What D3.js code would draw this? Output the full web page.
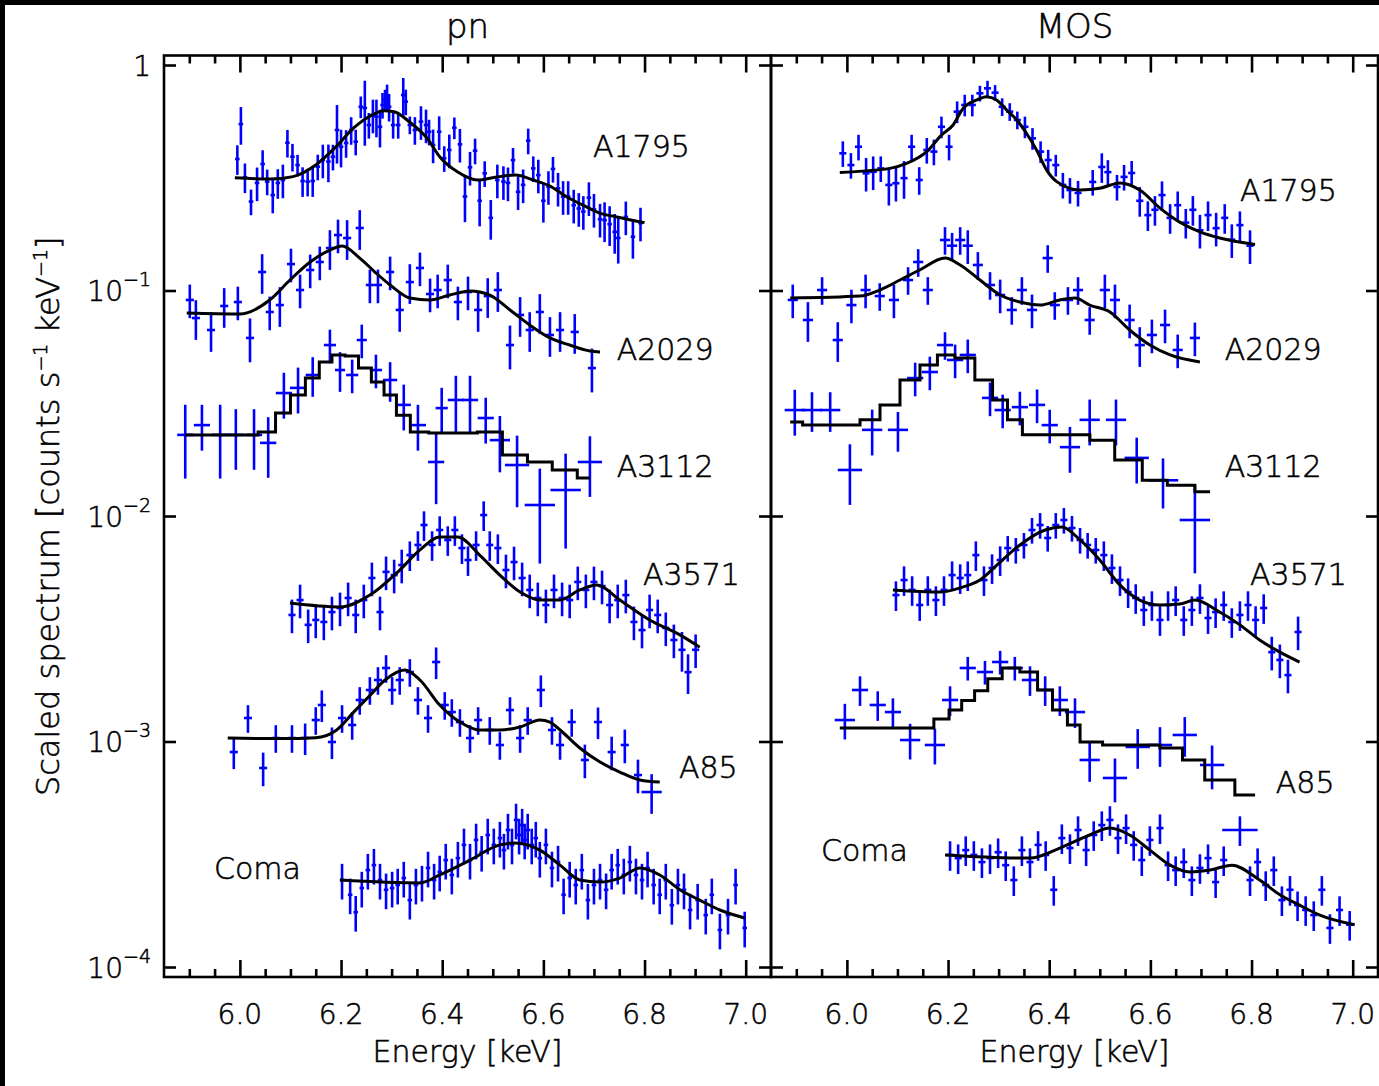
<!DOCTYPE html>
<html>
<head>
<meta charset="utf-8">
<script src="https://cdn.jsdelivr.net/npm/d3@7"></script>
<style>
body { margin:0; background:#fff; }
svg { display:block; }
text { font-family:"DejaVu Sans", sans-serif; font-weight:200; fill:#000; stroke:#000; stroke-width:0.55px; }
</style>
</head>
<body>
<svg id="chart"></svg>
<script>
// panels and clusters
var panels = ["pn", "MOS"];
var clusters = ["A1795", "A2029", "A3112", "A3571", "A85", "Coma"];

// axis ticks
var xMajorTicks = [6.0, 6.2, 6.4, 6.6, 6.8, 7.0];
var xMinorTicks = [5.9, 5.95, 6.05, 6.1, 6.15, 6.25, 6.3, 6.35, 6.45, 6.5, 6.55, 6.65, 6.7, 6.75, 6.85, 6.9, 6.95];
var yTicks = [1e-4, 1e-3, 1e-2, 1e-1, 1];
var yTickExp = [-4, -3, -2, -1, 0];

// data rows: [energy keV, scaled counts, relative error, (optional) half bin width keV]
// model rows: [energy keV, scaled counts]

// ---- pn ----
var pnA1795Data = [
[5.995,0.383,0.15],[6.002,0.547,0.19],[6.010,0.318,0.15],[6.022,0.248,0.13],[6.034,0.300,0.17],[6.045,0.364,0.15],
[6.054,0.304,0.13],[6.065,0.265,0.17],[6.075,0.300,0.15],[6.085,0.309,0.17],[6.094,0.452,0.14],[6.104,0.392,0.14],
[6.114,0.360,0.11],[6.124,0.306,0.15],[6.134,0.304,0.14],[6.144,0.306,0.15],[6.154,0.354,0.13],[6.164,0.379,0.17],
[6.175,0.373,0.19],[6.184,0.392,0.13],[6.192,0.515,0.29],[6.200,0.434,0.19],[6.210,0.451,0.14],[6.220,0.515,0.14],
[6.229,0.457,0.13],[6.239,0.653,0.11],[6.247,0.645,0.32],[6.255,0.542,0.13],[6.263,0.600,0.17],[6.270,0.590,0.19],
[6.277,0.532,0.19],[6.282,0.665,0.13],[6.287,0.700,0.11],[6.291,0.724,0.13],[6.295,0.653,0.14],[6.303,0.542,0.13],
[6.313,0.542,0.13],[6.323,0.736,0.19],[6.328,0.688,0.13],[6.336,0.542,0.09],[6.346,0.515,0.14],[6.358,0.561,0.17],
[6.368,0.542,0.17],[6.374,0.506,0.13],[6.382,0.442,0.17],[6.394,0.506,0.17],[6.404,0.386,0.13],[6.414,0.420,0.17],
[6.424,0.527,0.11],[6.435,0.445,0.17],[6.445,0.261,0.23],[6.455,0.352,0.17],[6.465,0.417,0.13],[6.474,0.250,0.23],
[6.484,0.331,0.13],[6.496,0.210,0.20],[6.509,0.309,0.17],[6.521,0.304,0.17],[6.530,0.300,0.17],[6.540,0.379,0.13],
[6.550,0.274,0.17],[6.560,0.294,0.17],[6.570,0.462,0.13],[6.580,0.348,0.13],[6.590,0.325,0.17],[6.600,0.250,0.20],
[6.610,0.289,0.17],[6.619,0.346,0.13],[6.629,0.284,0.17],[6.639,0.261,0.17],[6.649,0.261,0.17],[6.660,0.239,0.17],
[6.670,0.231,0.17],[6.679,0.224,0.17],[6.690,0.258,0.17],[6.700,0.229,0.17],[6.712,0.207,0.17],[6.721,0.205,0.20],
[6.731,0.197,0.20],[6.741,0.182,0.20],[6.748,0.171,0.23],[6.763,0.212,0.17],[6.777,0.173,0.20],[6.792,0.199,0.17]
];
var pnA1795Model = [
[5.99,0.316],[6.06,0.312],[6.105,0.32],[6.15,0.36],[6.19,0.434],[6.225,0.526],[6.255,0.59],[6.285,0.627],
[6.305,0.621],[6.335,0.56],[6.37,0.474],[6.395,0.392],[6.43,0.336],[6.47,0.309],[6.505,0.318],[6.545,0.325],
[6.58,0.309],[6.615,0.289],[6.645,0.261],[6.685,0.235],[6.71,0.221],[6.745,0.212],[6.80,0.20]
];

var pnA2029Data = [
[5.901,0.0908,0.17],[5.913,0.0755,0.2],[5.943,0.0668,0.2],[5.969,0.0854,0.2],[5.996,0.0889,0.17],[6.02,0.0616,0.22],
[6.044,0.1208,0.2],[6.059,0.0803,0.17],[6.079,0.0862,0.2],[6.101,0.131,0.17],[6.119,0.1005,0.17],[6.139,0.1233,0.17],
[6.158,0.1338,0.17],[6.178,0.1543,0.2],[6.194,0.1762,0.17],[6.212,0.1709,0.2],[6.237,0.1893,0.2],[6.257,0.1058,0.17],
[6.273,0.1058,0.17],[6.297,0.1208,0.17],[6.316,0.082,0.2],[6.336,0.109,0.2],[6.356,0.1259,0.17],[6.376,0.0965,0.17],
[6.391,0.1005,0.17],[6.411,0.1113,0.17],[6.431,0.0889,0.17],[6.451,0.0985,0.17],[6.471,0.082,0.2],[6.49,0.0945,0.2],
[6.51,0.1005,0.2],[6.534,0.0573,0.22],[6.554,0.0779,0.2],[6.573,0.0668,0.2],[6.593,0.0803,0.2],[6.613,0.0635,0.2],
[6.633,0.0668,0.2],[6.662,0.0655,0.2],[6.696,0.0453,0.22]
];
var pnA2029Model = [
[5.895,0.0795],[6.0,0.0787],[6.059,0.0908],[6.099,0.1113],[6.139,0.1338],[6.178,0.1512],[6.202,0.1575],[6.237,0.1393],
[6.267,0.1208],[6.297,0.1058],[6.336,0.0926],[6.376,0.0908],[6.415,0.0955],[6.455,0.0995],[6.494,0.0955],[6.534,0.082],
[6.573,0.0703],[6.613,0.0616],[6.652,0.0573],[6.692,0.0539],[6.712,0.0534]
];

var pnA3112Data = [
[5.892,0.0229,0.36,0.016],[5.925,0.0253,0.23,0.016],[5.961,0.0229,0.36,0.016],[5.992,0.0229,0.3,0.016],
[6.028,0.0229,0.3,0.016],[6.056,0.0211,0.3,0.016],[6.087,0.0351,0.23,0.016],[6.115,0.037,0.23,0.016],
[6.144,0.0422,0.2,0.014],[6.178,0.0573,0.17,0.012],[6.198,0.0444,0.2,0.01],[6.222,0.0422,0.17,0.012],
[6.241,0.0603,0.17,0.01],[6.269,0.0444,0.17,0.012],[6.297,0.0401,0.2,0.014],[6.324,0.0311,0.23,0.014],
[6.352,0.0253,0.23,0.016],[6.388,0.01736,0.35,0.016],[6.399,0.0301,0.23,0.012],[6.427,0.0327,0.28,0.016],
[6.455,0.0327,0.28,0.016],[6.486,0.0272,0.23,0.016],[6.514,0.0217,0.28,0.02],[6.548,0.01683,0.35,0.024],
[6.593,0.01119,0.45,0.03],[6.644,0.01304,0.45,0.03],[6.692,0.01736,0.3,0.024]
];
var pnA3112Model = [
[5.892,0.02286],[5.931,0.02286],[5.971,0.02286],[6.016,0.02286],[6.056,0.02358],[6.085,0.0286],[6.115,0.0344],
[6.144,0.0409],[6.17,0.0482],[6.194,0.0518],[6.222,0.0512],[6.247,0.0453],[6.273,0.0393],[6.297,0.0344],
[6.322,0.028],[6.352,0.02358],[6.395,0.02334],[6.445,0.02334],[6.494,0.02358],[6.544,0.01865],[6.593,0.01736],
[6.642,0.016],[6.692,0.01474]
];

var pnA3571Data = [
[6.103,0.00364,0.17],[6.119,0.00424,0.17],[6.135,0.00329,0.17],[6.15,0.00346,0.17],[6.166,0.00339,0.17],
[6.182,0.00375,0.17],[6.198,0.00391,0.17],[6.214,0.00433,0.17],[6.229,0.00364,0.17],[6.245,0.00424,0.17],
[6.261,0.00531,0.17],[6.277,0.00375,0.17],[6.289,0.00565,0.17],[6.305,0.00547,0.17],[6.32,0.00606,0.17],
[6.336,0.00671,0.15],[6.352,0.00744,0.15],[6.364,0.00912,0.15],[6.38,0.00744,0.15],[6.395,0.00867,0.15],
[6.411,0.00783,0.15],[6.425,0.00867,0.15],[6.439,0.00721,0.15],[6.451,0.00638,0.15],[6.467,0.00744,0.15],
[6.482,0.0101,0.15],[6.494,0.00744,0.15],[6.51,0.00721,0.15],[6.526,0.00576,0.17],[6.542,0.00625,0.17],
[6.558,0.00531,0.17],[6.573,0.0047,0.17],[6.589,0.00433,0.17],[6.605,0.00403,0.17],[6.621,0.0047,0.17],
[6.637,0.00433,0.17],[6.652,0.00424,0.17],[6.668,0.0051,0.17],[6.684,0.0047,0.17],[6.7,0.0051,0.17],
[6.716,0.00489,0.17],[6.731,0.00403,0.17],[6.747,0.00424,0.17],[6.763,0.00446,0.17],[6.779,0.00339,0.17],
[6.795,0.00312,0.17],[6.81,0.00383,0.17],[6.826,0.00364,0.17],[6.842,0.00319,0.17],[6.858,0.00282,0.17],
[6.874,0.00255,0.2],[6.886,0.00203,0.2],[6.901,0.00255,0.17]
];
var pnA3571Model = [
[6.099,0.00411],[6.198,0.00395],[6.257,0.00446],[6.316,0.00576],[6.356,0.00707],[6.395,0.00807],[6.431,0.00807],
[6.474,0.00671],[6.514,0.00547],[6.554,0.0046],[6.593,0.00424],[6.633,0.00424],[6.672,0.0047],[6.706,0.00494],
[6.751,0.00424],[6.81,0.00346],[6.87,0.00297],[6.909,0.00262]
];

var pnA85Data = [
[5.988,0.000898,0.16],[6.016,0.001271,0.14],[6.046,0.000763,0.17],[6.071,0.001036,0.14],[6.103,0.001036,0.14],
[6.129,0.001036,0.16],[6.15,0.001245,0.14],[6.162,0.001452,0.16],[6.182,0.000995,0.16],[6.202,0.001271,0.14],
[6.222,0.001184,0.14],[6.237,0.001528,0.14],[6.257,0.001692,0.14],[6.273,0.001874,0.14],[6.289,0.002118,0.14],
[6.301,0.001692,0.14],[6.316,0.001874,0.14],[6.336,0.002033,0.14],[6.352,0.001528,0.14],[6.372,0.001271,0.14],
[6.388,0.002252,0.16],[6.405,0.001452,0.14],[6.419,0.001351,0.14],[6.435,0.00122,0.14],[6.455,0.001036,0.14],
[6.471,0.001245,0.14],[6.494,0.001125,0.14],[6.514,0.000965,0.14],[6.534,0.001379,0.14],[6.554,0.001036,0.14],
[6.569,0.001245,0.14],[6.595,0.001692,0.16],[6.617,0.001125,0.14],[6.633,0.000965,0.14],[6.656,0.00122,0.14],
[6.682,0.000828,0.17],[6.708,0.00122,0.16],[6.735,0.000898,0.17],[6.761,0.000965,0.17],[6.787,0.00071,0.17],
[6.814,0.000597,0.2,0.02]
];
var pnA85Model = [
[5.976,0.001036],[6.08,0.00103],[6.15,0.00104],[6.19,0.00112],[6.225,0.00135],[6.257,0.00160],[6.287,0.001874],
[6.326,0.002075],[6.356,0.001874],[6.395,0.001452],[6.435,0.00122],[6.474,0.001125],[6.514,0.001125],[6.554,0.00116],
[6.593,0.001245],[6.613,0.00122],[6.633,0.001125],[6.672,0.000936],[6.712,0.000811],[6.751,0.000732],
[6.791,0.000675],[6.83,0.000661]
];

var pnComaData = [
[6.202,0.000243,0.18],[6.218,0.000209,0.18],[6.229,0.000175,0.18],[6.241,0.000224,0.18],[6.253,0.000269,0.18],
[6.265,0.000283,0.18],[6.277,0.000243,0.18],[6.289,0.00022,0.18],[6.301,0.000224,0.18],[6.312,0.000231,0.18],
[6.324,0.000248,0.18],[6.336,0.000198,0.18],[6.348,0.000231,0.18],[6.36,0.000238,0.18],[6.372,0.000275,0.18],
[6.384,0.000243,0.18],[6.395,0.000264,0.18],[6.407,0.000298,0.18],[6.419,0.000256,0.18],[6.431,0.000304,0.18],
[6.443,0.000348,0.18],[6.455,0.000298,0.18],[6.467,0.000366,0.18],[6.478,0.000323,0.18],[6.49,0.000385,0.18],
[6.502,0.000348,0.18],[6.514,0.000373,0.18],[6.522,0.00033,0.18],[6.53,0.000405,0.18],[6.538,0.000348,0.18],
[6.546,0.000449,0.18],[6.552,0.000385,0.18],[6.558,0.000426,0.18],[6.563,0.000366,0.18],[6.569,0.000405,0.18],
[6.577,0.000348,0.18],[6.585,0.000373,0.18],[6.593,0.000304,0.18],[6.605,0.000348,0.18],[6.617,0.000275,0.18],
[6.629,0.000292,0.18],[6.64,0.000209,0.18],[6.652,0.000248,0.18],[6.664,0.000231,0.18],[6.676,0.000269,0.18],
[6.688,0.000198,0.18],[6.7,0.000231,0.18],[6.712,0.000243,0.18],[6.724,0.00022,0.18],[6.735,0.000269,0.18],
[6.747,0.000283,0.18],[6.759,0.000256,0.18],[6.771,0.000292,0.18],[6.783,0.000256,0.18],[6.795,0.000243,0.18],
[6.806,0.000275,0.18],[6.818,0.000231,0.18],[6.83,0.000209,0.18],[6.842,0.000243,0.18],[6.854,0.000188,0.18],
[6.866,0.000231,0.18],[6.878,0.00022,0.18],[6.89,0.000179,0.18],[6.905,0.000198,0.18],[6.921,0.00017,0.18],
[6.933,0.000209,0.18],[6.949,0.000146,0.18],[6.965,0.00017,0.18],[6.98,0.000231,0.18],[6.998,0.000149,0.18]
];
var pnComaModel = [
[6.198,0.000243],[6.356,0.000236],[6.395,0.000256],[6.455,0.000298],[6.514,0.000348],[6.544,0.000355],
[6.593,0.00033],[6.633,0.000283],[6.672,0.000243],[6.712,0.000238],[6.751,0.000248],[6.791,0.000275],
[6.83,0.000256],[6.87,0.00022],[6.909,0.000198],[6.949,0.000179],[6.998,0.000165]
];

// ---- MOS ----
var mosA1795Data = [
[5.992,0.406,0.13],[6.008,0.36,0.13],[6.023,0.434,0.13],[6.038,0.331,0.17],[6.052,0.336,0.17],[6.067,0.348,0.13],
[6.083,0.294,0.19],[6.097,0.299,0.17],[6.113,0.315,0.19],[6.128,0.434,0.13],[6.143,0.309,0.14],[6.158,0.42,0.13],
[6.172,0.413,0.13],[6.187,0.532,0.11],[6.202,0.434,0.13],[6.218,0.621,0.11],[6.233,0.665,0.11],[6.248,0.665,0.11],
[6.263,0.749,0.08],[6.278,0.788,0.08],[6.293,0.754,0.08],[6.307,0.653,0.09],[6.322,0.621,0.09],[6.337,0.57,0.09],
[6.352,0.532,0.11],[6.367,0.473,0.11],[6.383,0.413,0.11],[6.398,0.379,0.11],[6.413,0.36,0.11],[6.427,0.294,0.13],
[6.441,0.279,0.13],[6.457,0.271,0.13],[6.486,0.303,0.13],[6.504,0.353,0.15],[6.516,0.335,0.13],[6.534,0.288,0.13],
[6.548,0.319,0.13],[6.563,0.332,0.13],[6.579,0.25,0.15],[6.595,0.216,0.15],[6.609,0.228,0.15],[6.623,0.265,0.15],
[6.639,0.21,0.15],[6.654,0.239,0.15],[6.67,0.2,0.15],[6.684,0.228,0.15],[6.698,0.185,0.17],[6.714,0.216,0.15],
[6.73,0.189,0.17],[6.747,0.21,0.15],[6.761,0.168,0.17],[6.777,0.195,0.15],[6.797,0.158,0.17]
];
var mosA1795Model = [
[5.986,0.334],[6.085,0.348],[6.118,0.366],[6.158,0.413],[6.187,0.489],[6.21,0.542],[6.23,0.643],[6.257,0.70],
[6.276,0.724],[6.296,0.70],[6.316,0.631],[6.336,0.57],[6.355,0.498],[6.375,0.42],[6.395,0.342],[6.415,0.304],
[6.461,0.279],[6.5,0.284],[6.54,0.30],[6.579,0.279],[6.619,0.232],[6.658,0.201],[6.698,0.182],[6.737,0.171],[6.807,0.16]
];

var mosA2029Data = [
[5.893,0.0908,0.17],[5.923,0.074,0.2],[5.951,0.1005,0.14],[5.982,0.0603,0.2],[6.009,0.0862,0.17],[6.037,0.1005,0.17],
[6.065,0.0945,0.14],[6.093,0.0908,0.17],[6.121,0.1113,0.14],[6.141,0.1338,0.14],[6.16,0.1005,0.14],[6.194,0.1675,0.14],
[6.208,0.158,0.14],[6.224,0.1675,0.14],[6.239,0.158,0.17],[6.259,0.1298,0.14],[6.283,0.1058,0.14],[6.303,0.0955,0.17],
[6.326,0.082,0.14],[6.346,0.1005,0.14],[6.366,0.082,0.17],[6.397,0.1393,0.14],[6.411,0.0862,0.14],[6.437,0.0908,0.14],
[6.457,0.1005,0.14],[6.48,0.074,0.14],[6.51,0.1005,0.17],[6.53,0.0908,0.17],[6.559,0.074,0.17],[6.579,0.0573,0.2],
[6.603,0.0635,0.17],[6.629,0.0703,0.17],[6.654,0.0545,0.17],[6.688,0.0616,0.17]
];
var mosA2029Model = [
[5.888,0.0926],[6.026,0.0945],[6.065,0.1005],[6.105,0.1113],[6.144,0.1233],[6.194,0.1393],[6.224,0.1298],
[6.263,0.1113],[6.303,0.0955],[6.342,0.0889],[6.382,0.0862],[6.421,0.0908],[6.451,0.0926],[6.48,0.0862],
[6.52,0.0803],[6.559,0.0668],[6.599,0.0573],[6.639,0.0518],[6.698,0.0482]
];

var mosA3112Data = [
[5.897,0.0295,0.23,0.02],[5.931,0.0295,0.2,0.02],[5.967,0.0295,0.2,0.02],[6.006,0.016,0.3,0.024],
[6.05,0.0241,0.23,0.02],[6.101,0.0241,0.2,0.02],[6.135,0.0409,0.17,0.016],[6.164,0.0435,0.17,0.016],
[6.194,0.0573,0.14,0.016],[6.214,0.0492,0.17,0.016],[6.239,0.0518,0.17,0.016],[6.283,0.0334,0.17,0.016],
[6.308,0.0295,0.17,0.016],[6.342,0.0304,0.17,0.016],[6.376,0.0311,0.17,0.016],[6.401,0.0253,0.17,0.016],
[6.441,0.0202,0.23,0.02],[6.48,0.0267,0.23,0.02],[6.532,0.0267,0.23,0.02],[6.573,0.0181,0.23,0.024],
[6.625,0.0144,0.25,0.03],[6.688,0.0096,0.42,0.03]
];
var mosA3112Model = [
[5.888,0.0261],[5.937,0.0253],[6.006,0.0253],[6.046,0.0267],[6.085,0.0311],[6.125,0.0401],[6.164,0.0467],
[6.194,0.0518],[6.233,0.0502],[6.273,0.0401],[6.303,0.0327],[6.332,0.0267],[6.362,0.0229],[6.401,0.0229],
[6.461,0.0229],[6.5,0.0217],[6.559,0.0177],[6.609,0.0144],[6.658,0.0137],[6.718,0.0128]
];

var mosA3571Data = [
[6.097,0.00446,0.15],[6.113,0.0052,0.15],[6.129,0.0047,0.15],[6.144,0.00403,0.15],[6.16,0.0047,0.15],
[6.176,0.00424,0.15],[6.192,0.0047,0.15],[6.208,0.00547,0.15],[6.224,0.00531,0.15],[6.239,0.00547,0.15],
[6.255,0.00671,0.15],[6.271,0.0052,0.15],[6.287,0.00588,0.15],[6.303,0.00638,0.15],[6.318,0.00721,0.13],
[6.334,0.00707,0.13],[6.35,0.00744,0.13],[6.366,0.00867,0.13],[6.382,0.00912,0.13],[6.397,0.00799,0.13],
[6.413,0.00912,0.13],[6.429,0.0096,0.13],[6.445,0.00885,0.13],[6.461,0.00783,0.13],[6.476,0.00744,0.13],
[6.492,0.00707,0.13],[6.508,0.00671,0.15],[6.524,0.00588,0.15],[6.54,0.0052,0.15],[6.556,0.0046,0.15],
[6.571,0.00433,0.15],[6.587,0.00383,0.15],[6.603,0.00403,0.15],[6.619,0.00346,0.15],[6.635,0.00403,0.15],
[6.65,0.00424,0.15],[6.666,0.00346,0.15],[6.682,0.00383,0.15],[6.698,0.00433,0.15],[6.714,0.00353,0.15],
[6.729,0.00375,0.15],[6.745,0.00403,0.15],[6.761,0.00339,0.15],[6.777,0.00364,0.15],[6.793,0.00403,0.15],
[6.808,0.00346,0.15],[6.824,0.00391,0.15],[6.84,0.00249,0.17],[6.856,0.0023,0.17],[6.872,0.00197,0.17],
[6.892,0.00306,0.17]
];
var mosA3571Model = [
[6.091,0.0047],[6.184,0.0046],[6.224,0.0048],[6.263,0.0052],[6.303,0.00625],[6.342,0.00744],[6.392,0.00867],
[6.425,0.00894],[6.461,0.00783],[6.5,0.00638],[6.54,0.00494],[6.579,0.00424],[6.619,0.00403],[6.658,0.00407],
[6.688,0.00424],[6.737,0.00375],[6.777,0.00329],[6.816,0.00282],[6.856,0.00249],[6.895,0.00225]
];

var mosA85Data = [
[5.996,0.001245,0.18,0.02],[6.026,0.001692,0.15,0.016],[6.061,0.001452,0.15,0.016],[6.091,0.001351,0.15,0.016],
[6.125,0.001015,0.18,0.02],[6.174,0.000965,0.18,0.02],[6.204,0.001528,0.15,0.016],[6.239,0.002118,0.12,0.016],
[6.273,0.002033,0.12,0.016],[6.303,0.002252,0.12,0.016],[6.332,0.002118,0.12,0.016],[6.362,0.001874,0.15,0.016],
[6.392,0.001692,0.15,0.016],[6.421,0.001528,0.15,0.016],[6.451,0.001351,0.15,0.02],[6.48,0.000828,0.2,0.02],
[6.53,0.000689,0.22,0.024],[6.575,0.000946,0.2,0.024],[6.619,0.000965,0.2,0.024],[6.668,0.001069,0.2,0.024],
[6.722,0.000787,0.22,0.024]
];
var mosA85Model = [
[5.986,0.001148],[6.08,0.001148],[6.154,0.001148],[6.19,0.00126],[6.214,0.00138],[6.24,0.00152],[6.265,0.00168],
[6.292,0.00190],[6.322,0.002118],[6.362,0.002033],[6.392,0.001692],[6.421,0.001379],[6.451,0.001184],[6.471,0.000995],
[6.54,0.000965],[6.599,0.000965],[6.639,0.000936],[6.688,0.000828],[6.727,0.000675],[6.807,0.000579]
];

var mosComaData = [
[6.204,0.000314,0.15],[6.22,0.000304,0.15],[6.235,0.00033,0.15],[6.251,0.000314,0.15],[6.267,0.000292,0.15],
[6.283,0.000304,0.15],[6.299,0.000323,0.15],[6.314,0.000283,0.15],[6.33,0.000243,0.15],[6.346,0.00033,0.15],
[6.362,0.000292,0.15],[6.378,0.000348,0.15],[6.393,0.000314,0.15],[6.409,0.00022,0.15],[6.425,0.000373,0.15],
[6.441,0.000337,0.15],[6.457,0.000405,0.15],[6.473,0.00033,0.15],[6.488,0.000385,0.15],[6.504,0.000426,0.15],
[6.52,0.000449,0.15],[6.536,0.000373,0.15],[6.552,0.000413,0.15],[6.567,0.000348,0.15],[6.583,0.000298,0.15],
[6.599,0.000366,0.15],[6.619,0.000413,0.15],[6.635,0.000283,0.15],[6.65,0.000269,0.15],[6.666,0.000292,0.15],
[6.682,0.000243,0.15],[6.698,0.000275,0.15],[6.714,0.000304,0.15],[6.729,0.000238,0.15],[6.745,0.000298,0.15],
[6.777,0.000405,0.15,0.035],[6.797,0.000243,0.15],[6.812,0.000292,0.15],[6.828,0.000231,0.15],[6.844,0.000269,0.15],
[6.86,0.000198,0.15],[6.876,0.00022,0.15],[6.891,0.000188,0.15],[6.907,0.000179,0.15],[6.923,0.00017,0.15],
[6.939,0.00022,0.15],[6.955,0.000149,0.15],[6.974,0.000179,0.15],[6.994,0.000154,0.15]
];
var mosComaModel = [
[6.194,0.000314],[6.362,0.000304],[6.421,0.000337],[6.48,0.000385],[6.52,0.000413],[6.559,0.000385],
[6.599,0.00033],[6.639,0.000283],[6.678,0.000264],[6.718,0.000269],[6.761,0.000283],[6.816,0.000243],
[6.856,0.000209],[6.895,0.000188],[6.935,0.00017],[7.004,0.000154]
];

// label anchor in data coordinates [energy, counts]
var labelAnchors = {
  pn:  [[6.698,0.391],[6.745,0.0492],[6.745,0.0149],[6.797,0.00494],[6.868,0.000689],[5.949,0.000246]],
  MOS: [[6.777,0.249],[6.747,0.0492],[6.747,0.0149],[6.797,0.00494],[6.848,0.000591],[5.949,0.000295]]
};

// spectrum table: panel, cluster, data, model, default half bin width, step-drawn model
var spectra = [
  {panel:"pn", name:"A1795", data:pnA1795Data, model:pnA1795Model, dE:0.0045, step:false},
  {panel:"pn", name:"A2029", data:pnA2029Data, model:pnA2029Model, dE:0.008, step:false},
  {panel:"pn", name:"A3112", data:pnA3112Data, model:pnA3112Model, dE:0.016, step:true},
  {panel:"pn", name:"A3571", data:pnA3571Data, model:pnA3571Model, dE:0.007, step:false},
  {panel:"pn", name:"A85",   data:pnA85Data,   model:pnA85Model,   dE:0.008, step:false},
  {panel:"pn", name:"Coma",  data:pnComaData,  model:pnComaModel,  dE:0.0045, step:false},
  {panel:"MOS", name:"A1795", data:mosA1795Data, model:mosA1795Model, dE:0.007, step:false},
  {panel:"MOS", name:"A2029", data:mosA2029Data, model:mosA2029Model, dE:0.01, step:false},
  {panel:"MOS", name:"A3112", data:mosA3112Data, model:mosA3112Model, dE:0.018, step:true},
  {panel:"MOS", name:"A3571", data:mosA3571Data, model:mosA3571Model, dE:0.007, step:false},
  {panel:"MOS", name:"A85",   data:mosA85Data,   model:mosA85Model,   dE:0.018, step:true},
  {panel:"MOS", name:"Coma",  data:mosComaData,  model:mosComaModel,  dE:0.007, step:false}
];

//page layout
var screen = {width:1379, height:1086};
var plotTop = 55.5, plotBottom = 977;
var panelBox = {pn:{left:164, right:771}, MOS:{left:771, right:1378}};

var svg = d3.select("#chart")
    .attr("width", screen.width)
    .attr("height", screen.height);

svg.append("rect").attr("width", screen.width).attr("height", screen.height).attr("fill", "#fff");
//dark strips along the top and left edge of the scan
svg.append("rect").attr("x", 0).attr("y", 0).attr("width", screen.width).attr("height", 5).attr("fill", "#000");
svg.append("rect").attr("x", 0).attr("y", 0).attr("width", 5).attr("height", screen.height).attr("fill", "#000");

var yScale = d3.scaleLog()
    .domain([9.03e-5, 1.102])
    .range([plotBottom, plotTop]);

var drawSpectrum = function(target, spec, xScale)
{
    var points = target.append("g")
        .attr("stroke", "#0000ff")
        .attr("stroke-width", 2.6)
        .selectAll("g")
        .data(spec.data)
        .enter()
        .append("g");

    //vertical error bar
    points.append("line")
        .attr("x1", function(d){ return xScale(d[0]); })
        .attr("x2", function(d){ return xScale(d[0]); })
        .attr("y1", function(d){ return yScale(d[1] * (1 + d[2])); })
        .attr("y2", function(d){ return yScale(d[1] * (1 - d[2])); });

    //horizontal bin width
    points.append("line")
        .attr("x1", function(d){ return xScale(d[0] - (d[3] || spec.dE)); })
        .attr("x2", function(d){ return xScale(d[0] + (d[3] || spec.dE)); })
        .attr("y1", function(d){ return yScale(d[1]); })
        .attr("y2", function(d){ return yScale(d[1]); });

    //model curve
    var line = d3.line()
        .x(function(d){ return xScale(d[0]); })
        .y(function(d){ return yScale(d[1]); })
        .curve(spec.step ? d3.curveStep : d3.curveMonotoneX);

    target.append("path")
        .datum(spec.model)
        .attr("d", line)
        .attr("fill", "none")
        .attr("stroke", "#000")
        .attr("stroke-width", 3)
        .attr("stroke-linejoin", "miter");
}

var drawAxes = function(target, box, xScale)
{
    var tickStyle = function(g)
    {
        g.select(".domain").remove();
        g.selectAll("line").attr("stroke", "#000").attr("stroke-width", 2.6);
        g.selectAll("text").remove();
    }

    target.append("g").attr("transform", "translate(0," + plotBottom + ")")
        .call(d3.axisBottom(xScale).tickValues(xMajorTicks).tickSize(-17)).call(tickStyle);
    target.append("g").attr("transform", "translate(0," + plotBottom + ")")
        .call(d3.axisBottom(xScale).tickValues(xMinorTicks).tickSize(-8)).call(tickStyle);
    target.append("g").attr("transform", "translate(0," + plotTop + ")")
        .call(d3.axisTop(xScale).tickValues(xMajorTicks).tickSize(-17)).call(tickStyle);
    target.append("g").attr("transform", "translate(0," + plotTop + ")")
        .call(d3.axisTop(xScale).tickValues(xMinorTicks).tickSize(-8)).call(tickStyle);
    target.append("g").attr("transform", "translate(" + box.left + ",0)")
        .call(d3.axisLeft(yScale).tickValues(yTicks).tickSize(-12)).call(tickStyle);
    target.append("g").attr("transform", "translate(" + box.right + ",0)")
        .call(d3.axisRight(yScale).tickValues(yTicks).tickSize(-12)).call(tickStyle);

    //frame
    target.append("rect")
        .attr("x", box.left)
        .attr("y", plotTop)
        .attr("width", box.right - box.left)
        .attr("height", plotBottom - plotTop)
        .attr("fill", "none")
        .attr("stroke", "#000")
        .attr("stroke-width", 2.6);

    //energy tick labels
    target.append("g").selectAll("text")
        .data(xMajorTicks)
        .enter()
        .append("text")
        .attr("x", function(d){ return xScale(d); })
        .attr("y", 1024)
        .attr("text-anchor", "middle")
        .attr("font-size", 28)
        .text(d3.format(".1f"));

    //axis title
    target.append("text")
        .attr("x", (box.left + box.right) / 2)
        .attr("y", 1062)
        .attr("text-anchor", "middle")
        .attr("font-size", 30)
        .text("Energy [keV]");
}

panels.forEach(function(panel)
{
    var box = panelBox[panel];
    var xScale = d3.scaleLinear()
        .domain([5.85, 7.05])
        .range([box.left, box.right]);

    var target = svg.append("g").attr("class", "panel-" + panel);

    spectra.filter(function(s){ return s.panel === panel; })
        .forEach(function(s){ drawSpectrum(target, s, xScale); });

    drawAxes(target, box, xScale);

    //panel title
    target.append("text")
        .attr("x", (box.left + box.right) / 2)
        .attr("y", 38)
        .attr("text-anchor", "middle")
        .attr("font-size", 34)
        .text(panel);

    //cluster names
    target.append("g").selectAll("text")
        .data(clusters)
        .enter()
        .append("text")
        .attr("x", function(d, i){ return xScale(labelAnchors[panel][i][0]); })
        .attr("y", function(d, i){ return yScale(labelAnchors[panel][i][1]); })
        .attr("font-size", 30)
        .text(function(d){ return d; });
});

//y tick labels (left panel only)
var yLabels = svg.append("g").selectAll("text")
    .data(yTicks)
    .enter()
    .append("text")
    .attr("x", 151)
    .attr("y", function(d){ return yScale(d) + 10.5; })
    .attr("text-anchor", "end")
    .attr("font-size", 28);

yLabels.each(function(d, i)
{
    var t = d3.select(this);
    if (yTickExp[i] === 0)
    {
        t.text("1");
    }
    else
    {
        t.append("tspan").text("10");
        t.append("tspan").attr("dy", -15).attr("font-size", 19).text("\u2212" + Math.abs(yTickExp[i]));
    }
});

//y title
var yTitle = svg.append("text")
    .attr("transform", "translate(59," + ((plotTop + plotBottom) / 2) + ") rotate(-90)")
    .attr("text-anchor", "middle")
    .attr("font-size", 32);
yTitle.append("tspan").text("Scaled spectrum [counts s");
yTitle.append("tspan").attr("dy", -12).attr("font-size", 19).text("\u22121");
yTitle.append("tspan").attr("dy", 12).text(" keV");
yTitle.append("tspan").attr("dy", -12).attr("font-size", 19).text("\u22121");
yTitle.append("tspan").attr("dy", 12).text("]");
</script>
</body>
</html>
